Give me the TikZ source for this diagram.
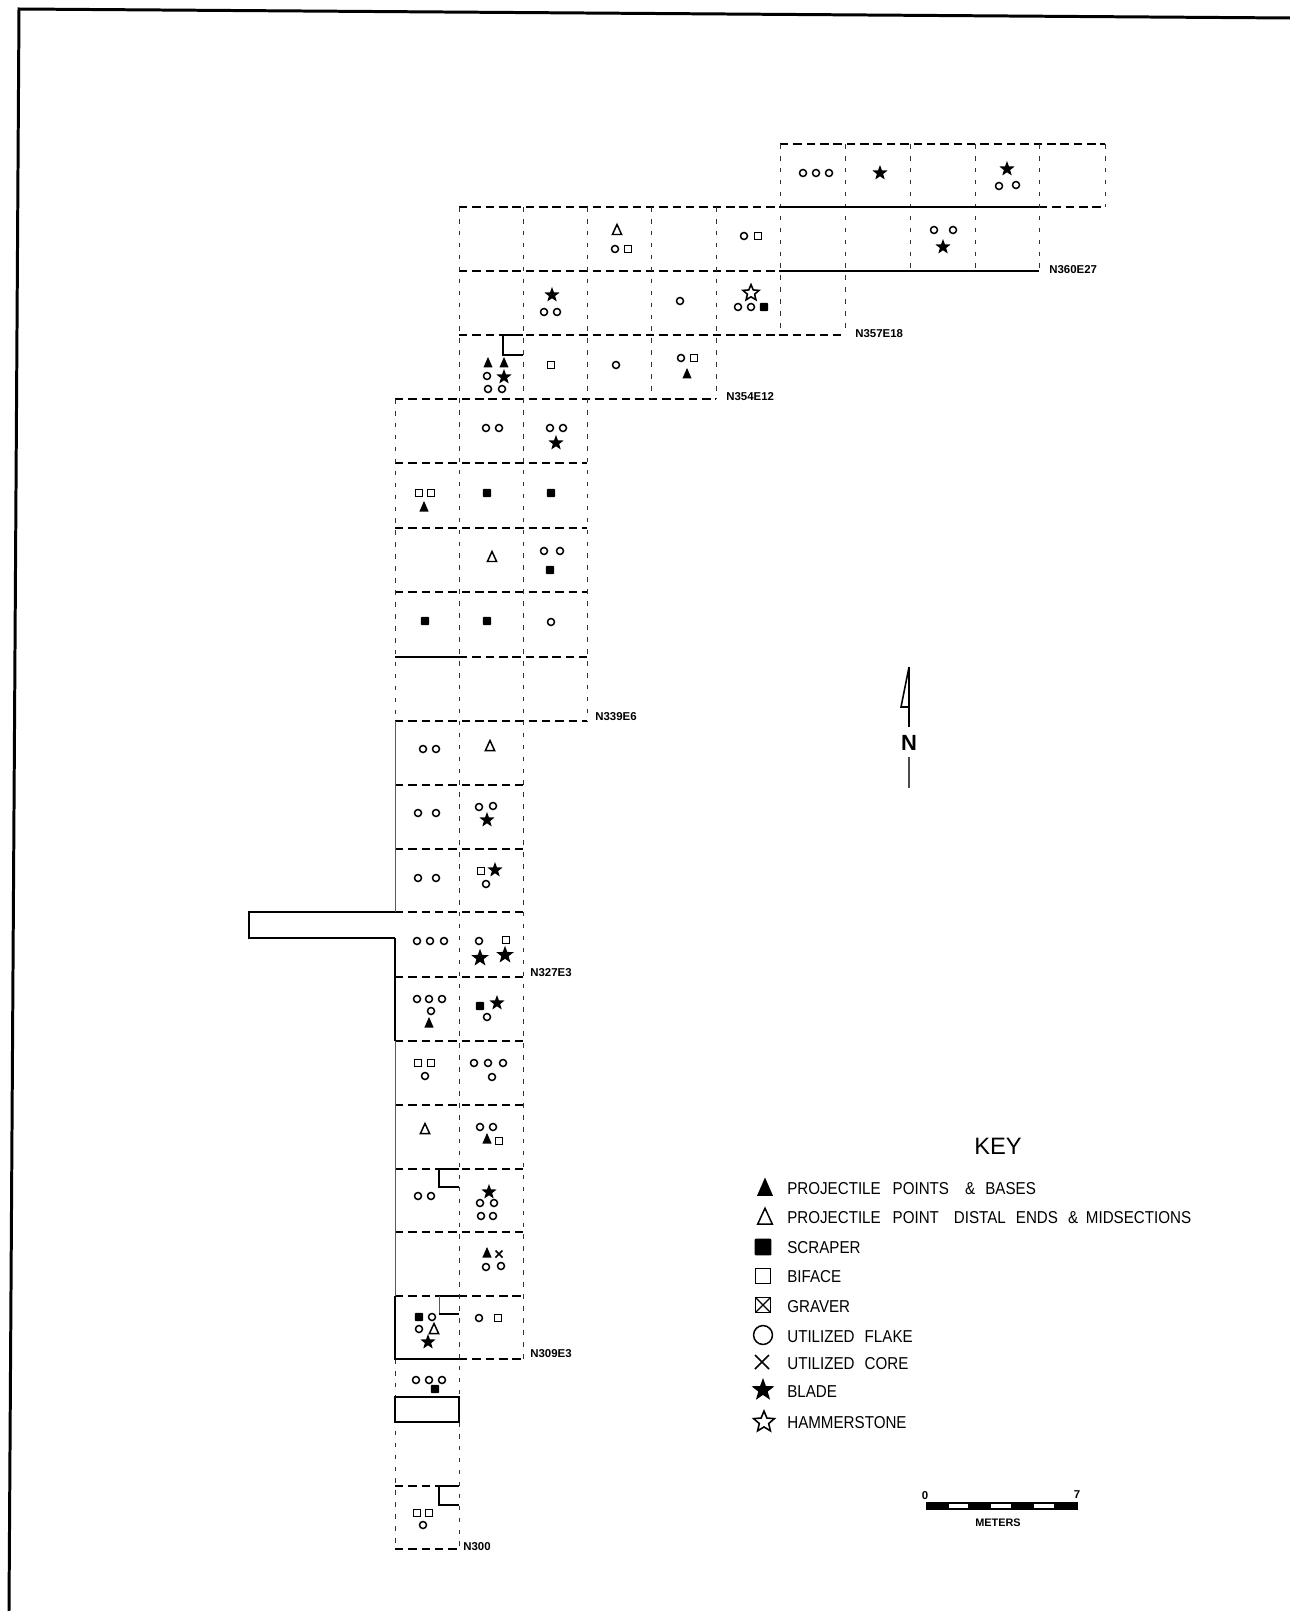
\documentclass[tikz,border=0pt]{standalone}
\usepackage{fontspec}
\setmainfont{Liberation Sans}
\usetikzlibrary{calc,positioning}

\tikzset{
  griddash/.style={line width=0.8pt,dash pattern=on 4.8pt off 2.8pt},
  griddot/.style={line width=0.5pt,black!80,dash pattern=on 2.6pt off 4.2pt},
  gridthin/.style={line width=0.35pt,black!65},
  trench/.style={line width=0.8pt},
  keylabel/.style={anchor=west,inner sep=0pt,xscale=0.88,transform shape,font=\fontsize{9.8}{11}\selectfont},
  gridlabel/.style={anchor=west,inner sep=0pt,font=\fontsize{6.5}{7}\selectfont\bfseries},
  flake/.pic={\draw[line width=0.85pt] (0,0) circle (3.5);},
  biface/.pic={\draw[line width=0.85pt] (-3.6,-3.6) rectangle (3.6,3.6);},
  scraper/.pic={\fill[rounded corners=0.6] (-4.2,-4.2) rectangle (4.2,4.2);},
  point/.pic={\fill (0,-6) -- (4.6,4.5) -- (-4.6,4.5) -- cycle;},
  distal/.pic={\draw[line width=0.85pt,line join=miter] (0,-5.5) -- (4.6,4.5) -- (-4.6,4.5) -- cycle;},
  corex/.pic={\draw[line width=0.9pt] (-3.5,-3.5) -- (3.5,3.5) (-3.5,3.5) -- (3.5,-3.5);},
  blade/.pic={\fill (270:8) \foreach \a in {1,...,9} {-- ({270+36*\a}:{mod(\a,2)==1 ? 3.3 : 8})} -- cycle;},
  hammer/.pic={\draw[line width=0.9pt] (270:8.4) \foreach \a in {1,...,9} {-- ({270+36*\a}:{mod(\a,2)==1 ? 3.8 : 8.4})} -- cycle;},
}

\begin{document}
\begin{tikzpicture}[x=0.02cm,y=-0.02cm]
\useasboundingbox (0,0) rectangle (1290,1611);

% Sheet frame
\draw[line width=1.7pt] (1290,18) -- (19,9) -- (9,1611);

% Grid, east-west lines
\foreach \y/\xa/\xb in {144/780/1105,207/459/780,207/1039/1105,271/459/780,335/459/845,399/395/716,
  463/395/587,528/395/587,592/395/587,657/459/587,721/395/587,785/395/523,849/395/523,912/395/523,
  977/395/523,1041/395/523,1105/395/523,1169/395/523,1232/395/523,1296/395/439,1296/459/523,
  1359/459/523,1486/395/439,1549/395/459}
  \draw[griddash] (\xa,\y) -- (\xb,\y);

% Grid, north-south lines
\foreach \x/\ya/\yb in {395/399/721,395/1359/1549,459/207/1396,459/1422/1549,523/207/1359,587/207/721,
  651/207/399,716/207/399,780/144/335,845/144/335,910/144/271,975/144/271,1039/144/271,1105/144/207}
  \draw[griddot] (\x,\ya) -- (\x,\yb);
\foreach \x/\ya/\yb in {395/721/912,395/1041/1296} \draw[gridthin] (\x,\ya) -- (\x,\yb);

% Trenches and solid unit edges
\draw[trench] (780,207) -- (1039,207);
\draw[trench] (780,271) -- (1039,271);
\draw[trench] (395,657) -- (459,657);
\draw[trench] (395,912) -- (249,912) -- (249,938) -- (395,938);
\draw[line width=0.6pt] (395,938) -- (395,1041);
\draw[trench] (503,335) -- (523,335);
\draw[trench] (503,335) -- (503,355) -- (523,355);
\draw[trench] (439,1169) -- (459,1169);
\draw[trench] (439,1169) -- (439,1187) -- (459,1187);
\draw[trench] (439,1296) -- (459,1296);
\draw[gridthin] (439,1296) -- (439,1314);
\draw[trench] (439,1314) -- (459,1314);
\draw[trench] (395,1296) -- (395,1359) -- (459,1359);
\draw[trench] (395,1397) rectangle (459,1422);
\draw[trench] (439,1486) -- (459,1486);
\draw[trench] (439,1486) -- (439,1505) -- (459,1505);

% Finds, utilized flakes
\foreach \x/\y in {803/173,816/173,829/173,999/186,1016/185,
  615/249,744/236,934/230,953/230,544/312,557/312,680/301,738/307,751/307,
  487/376,488/389,502/389,616/365,681/358,
  486/428,499/428,550/428,563/428,544/551,560/551,551/622,
  423/749,436/749,418/813,436/813,479/807,493/806,418/878,436/878,486/884,
  417/941,430/941,444/941,479/941,417/999,429/999,442/999,431/1011,487/1017,
  425/1076,474/1063,488/1063,503/1063,492/1077,480/1127,493/1127,
  418/1196,431/1196,480/1203,494/1203,481/1216,493/1216,486/1267,501/1266,
  432/1317,419/1329,479/1318,416/1380,429/1380,442/1380,423/1525}
  \pic at (\x,\y) {flake};

% Finds, bifaces
\foreach \x/\y in {628/249,758/236,551/365,694/358,419/493,431/493,481/871,506/940,
  418/1063,431/1063,499/1141,498/1318,417/1513,429/1513}
  \pic at (\x,\y) {biface};

% Finds, scrapers
\foreach \x/\y in {764/307,487/493,551/493,550/570,425/621,487/621,480/1006,419/1317,435/1389}
  \pic at (\x,\y) {scraper};

% Finds, points and distal ends
\foreach \x/\y in {488/363,504/363,687/374,424/507,429/1023,487/1139,487/1253}
  \pic at (\x,\y) {point};
\foreach \x/\y in {617/230,492/557,490/746,425/1129,434/1329}
  \pic at (\x,\y) {distal};

% Finds, blades
\foreach \x/\y in {880/173,1007/169,943/247,552/295,504/377,556/443,487/820,495/870,
  497/1003,489/1192,428/1342}
  \pic at (\x,\y) {blade};
\pic[scale=1.15] at (480,958) {blade};
\pic[scale=1.15] at (505,955) {blade};

\pic at (751,293) {hammer};
\pic at (499,1254) {corex};

% Unit datum labels
\node[gridlabel] (datumA) at (1049,270) {N360E27};
\node[gridlabel] (datumB) at (855,334) {N357E18};
\node[gridlabel] (datumC) at (726,397) {N354E12};
\node[gridlabel] (datumD) at (595,717) {N339E6};
\node[gridlabel] (datumE) at (530,973) {N327E3};
\node[gridlabel] (datumF) at (530,1354) {N309E3};
\node[gridlabel] (datumG) at (463,1547) {N300};

% North arrow
\draw[line width=0.9pt] (909,667) -- (909,727);
\draw[line width=0.9pt] (909,667) -- (901,707) -- (909,707);
\node[inner sep=0pt,font=\fontsize{12.5}{14}\selectfont\bfseries] (north) at (909,743) {N};
\draw[line width=0.6pt,black!70] (909,757) -- (909,788);

% Key
\node[inner sep=0pt,font=\fontsize{13.5}{15}\selectfont] (keytitle) at (998,1146) {KEY};
\pic[scale=1.75] at (765,1188) {point};
\pic[scale=1.6] at (765,1217) {distal};
\pic[scale=2] at (763,1247) {scraper};
\pic[scale=2.1] at (763,1276) {biface};
\pic[scale=2.1] at (763,1305) {biface};
\draw[line width=0.7pt] (755.5,1297.5) -- (770.5,1312.5) (755.5,1312.5) -- (770.5,1297.5);
\pic[scale=2.7] at (763,1335) {flake};
\pic[scale=2] at (762,1362) {corex};
\pic[scale=1.5] at (763,1390) {blade};
\pic[scale=1.3] at (764,1422) {hammer};
\node[keylabel] (keypoint) at (787,1189) {PROJECTILE\hspace{7.7pt}POINTS\hspace{10.4pt}\&\hspace{6.5pt}BASES};
\node[keylabel] (keydistal) at (787,1218) {PROJECTILE\hspace{7.7pt}POINT\hspace{9.7pt}DISTAL\hspace{6.5pt}ENDS\hspace{6.5pt}\&\hspace{5pt}MIDSECTIONS};
\node[keylabel] (keyscraper) at (787,1248) {SCRAPER};
\node[keylabel] (keybiface) at (787,1277) {BIFACE};
\node[keylabel] (keygraver) at (787,1307) {GRAVER};
\node[keylabel] (keyflake) at (787,1337) {UTILIZED\hspace{6.5pt}FLAKE};
\node[keylabel] (keycore) at (787,1364) {UTILIZED\hspace{6.5pt}CORE};
\node[keylabel] (keyblade) at (787,1392) {BLADE};
\node[keylabel] (keyhammer) at (787,1423) {HAMMERSTONE};

% Scale bar
\fill (926,1502) rectangle (1078,1510);
\foreach \xa/\xb in {949/968,991/1011,1034/1054} \fill[white] (\xa,1503.7) rectangle (\xb,1508);
\node[inner sep=0pt,font=\fontsize{6.5}{7}\selectfont\bfseries] (scalezero) at (925,1496) {0};
\node[inner sep=0pt,font=\fontsize{6.5}{7}\selectfont\bfseries] (scaleseven) at (1077,1495) {7};
\node[inner sep=0pt,font=\fontsize{6.2}{7}\selectfont\bfseries] (scaleunit) at (998,1523) {METERS};
\end{tikzpicture}
\end{document}
